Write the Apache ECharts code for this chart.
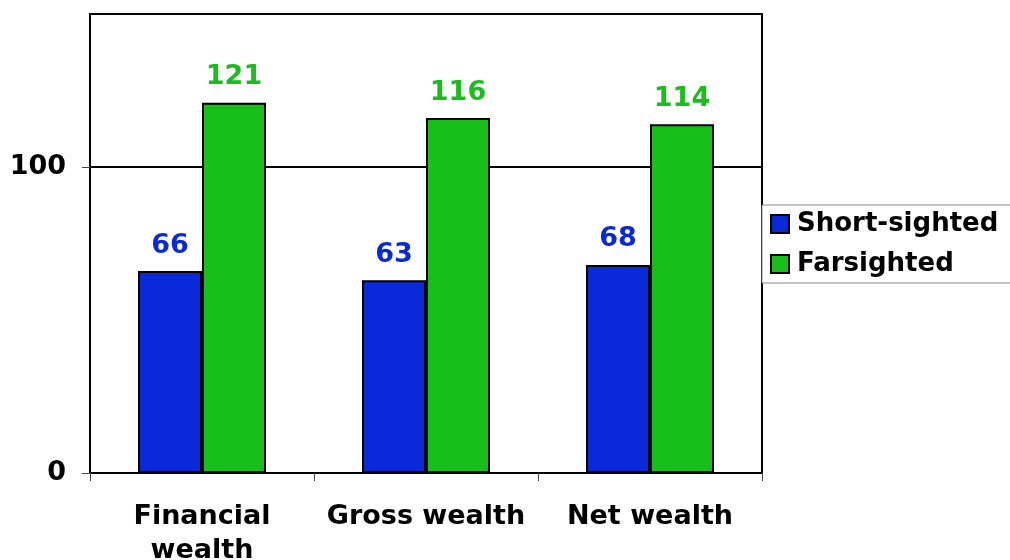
<!DOCTYPE html>
<html>
<head>
<meta charset="utf-8">
<script src="https://cdn.jsdelivr.net/npm/echarts@6/dist/echarts.min.js"></script>
<style>
  * { margin: 0; padding: 0; }
  body { background: #fff; }
  #main { width: 1010px; height: 560px; }
</style>
</head>
<body>
<div id="main"></div>
<script>
// chart data
var categories = ['Financial\nwealth', 'Gross wealth', 'Net wealth']
var shortSighted = [66, 63, 68]
var farsighted = [121, 116, 114]
var yTicks = [0, 100]

var font = 'DejaVu Sans'
var myChart = echarts.init(document.getElementById('main'))

var option = {
  animation: false,
  textStyle: { fontFamily: font },
  grid: {
    left: 90, right: 248, top: 14, bottom: 87,
    outerBoundsMode: 'none',
    containLabel: false,
    show: true, borderColor: '#000', borderWidth: 2
  },
  legend: {
    orient: 'vertical',
    left: 762, top: 205,
    padding: [6, 20, 6, 8],
    itemGap: 14,
    itemWidth: 18, itemHeight: 18,
    backgroundColor: '#fff',
    borderColor: '#888', borderWidth: 1,
    icon: 'rect',
    textStyle: { fontFamily: font, fontSize: 26, fontWeight: 'bold', color: '#000', padding: [0, 0, 0, 3] },
    data: ['Short-sighted', 'Farsighted']
  },
  xAxis: {
    type: 'category',
    data: categories,
    axisLine: { lineStyle: { color: '#000', width: 2 } },
    axisTick: { show: true, interval: 0, length: 8, lineStyle: { color: '#444', width: 1 } },
    axisLabel: {
      interval: 0,
      margin: 27, fontSize: 27, fontWeight: 'bold', color: '#000',
      lineHeight: 34, fontFamily: font
    }
  },
  yAxis: {
    type: 'value',
    min: 0, max: 150, interval: 100,
    axisLine: { show: true, lineStyle: { color: '#000', width: 2 } },
    axisTick: { show: true, length: 8, customValues: yTicks, lineStyle: { color: '#444', width: 1 } },
    splitLine: { show: true, lineStyle: { color: '#000', width: 2 } },
    axisLabel: {
      margin: 24, fontSize: 27, fontWeight: 'bold', color: '#000', fontFamily: font,
      customValues: yTicks
    }
  },
  series: [
    {
      name: 'Short-sighted',
      type: 'bar',
      data: shortSighted,
      barWidth: 64,
      barGap: '0%',
      itemStyle: { color: '#0a29db', borderColor: '#000', borderWidth: 2 },
      label: {
        show: true, position: 'top', distance: 12,
        fontSize: 27, fontWeight: 'bold', color: '#0a29db', fontFamily: font
      }
    },
    {
      name: 'Farsighted',
      type: 'bar',
      data: farsighted,
      barWidth: 64,
      barGap: '0%',
      itemStyle: { color: '#17bf1a', borderColor: '#000', borderWidth: 2 },
      label: {
        show: true, position: 'top', distance: 12,
        fontSize: 27, fontWeight: 'bold', color: '#17bf1a', fontFamily: font
      }
    }
  ]
}
myChart.setOption(option)
</script>
</body>
</html>
